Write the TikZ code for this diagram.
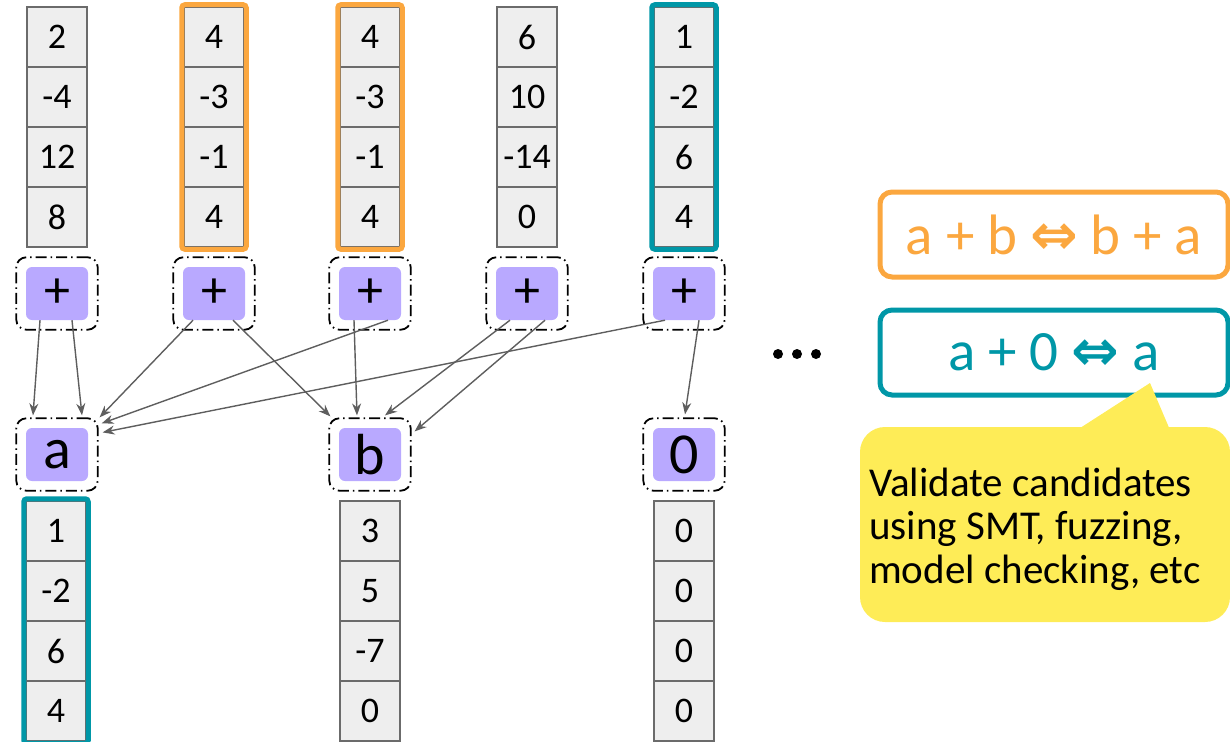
\documentclass[tikz,border=0pt]{standalone}
\usepackage{fontspec}
\setmainfont{Carlito}
\newfontfamily\symfont{DejaVu Sans}
\usetikzlibrary{arrows.meta,fit,calc}
\definecolor{cellfill}{HTML}{EEEEEE}
\definecolor{cellline}{HTML}{6B6B6B}
\definecolor{opfill}{HTML}{B9A9FF}
\definecolor{ruleorange}{HTML}{FBA73F}
\definecolor{ruleteal}{HTML}{0097A7}
\definecolor{notefill}{HTML}{FEEC57}
\definecolor{edgegray}{HTML}{5E5E5E}
\newcommand\valuecells[4]{%
  \foreach \v [count=\j] in {#4}{%
    \node[cell] (#1-\j) at (#2,{#3+60*(\j-1)}) {\v};}}
\begin{document}
\begin{tikzpicture}[x=1pt,y=-1pt,
  cell/.style={draw=cellline, fill=cellfill, line width=1.5pt,
    minimum width=60pt, minimum height=60pt, inner sep=0pt,
    font=\fontsize{36}{36}\selectfont},
  opbox/.style={fill=opfill, rounded corners=6pt, minimum width=62pt,
    minimum height=53pt, inner sep=0pt},
  dashbox/.style={draw=black, line width=1.8pt, rounded corners=10pt,
    dash pattern=on 11pt off 4pt on 1.5pt off 4pt, inner sep=9.5pt},
  edge/.style={draw=edgegray, line width=1.4pt,
    -{Stealth[length=12pt,width=9pt]}},
  frame/.style={line width=5pt, rounded corners=3pt, inner sep=1.5pt},
  rulebox/.style={line width=5pt, rounded corners=12pt},
  ruletext/.style={font=\fontsize{57}{57}\selectfont}
]
\useasboundingbox (0,0) rectangle (1230,741);

% input vectors
\valuecells{c1}{57}{37}{2,-4,12,8}
\valuecells{c2}{214}{37}{4,-3,-1,4}
\valuecells{c3}{370}{37}{4,-3,-1,4}
\valuecells{c4}{527}{37}{6,10,-14,0}
\valuecells{c5}{684}{37}{1,-2,6,4}
\node[frame, draw=ruleorange, fit=(c2-1)(c2-4)] (f2) {};
\node[frame, draw=ruleorange, fit=(c3-1)(c3-4)] (f3) {};
\node[frame, draw=ruleteal, fit=(c5-1)(c5-4)] (f5) {};

% addition nodes
\foreach \i/\x in {1/57,2/214,3/370,4/527,5/684}{
  \node[opbox, font=\fontsize{52}{52}\selectfont] (p\i) at (\x,293.5) {+};
  \node[dashbox, fit=(p\i)] (q\i) {};
}

% candidate leaves
\foreach \n/\x/\t in {a/57/a,b/370/b,z/684/0}{
  \node[opbox, font=\fontsize{58}{58}\selectfont] (l\n) at (\x,454.5) {\t};
  \node[dashbox, fit=(l\n)] (r\n) {};
}

% output vectors
\valuecells{va}{56}{531}{1,-2,6,4}
\valuecells{vb}{370}{531}{3,5,-7,0}
\valuecells{vz}{684}{531}{0,0,0,0}
\node[frame, draw=ruleteal, fit=(va-1)(va-4)] (fa) {};

% matching edges
\draw[edge] ($(p1.south)+(-17,0)$) -- ($(ra.north)+(-24,-2)$);
\draw[edge] ($(p1.south)+(15,0)$) -- ($(ra.north)+(25,-2)$);
\draw[edge] ($(p2.south)+(-21,0)$) -- ($(ra.north east)+(1,0)$);
\draw[edge] ($(p2.south)+(19,0)$) -- ($(rb.north west)+(2,-1)$);
\draw[edge] ($(p3.south)+(-16,0)$) -- ($(rb.north)+(-13,-2)$);
\draw[edge] ($(p3.south)+(18,0)$) -- ($(ra.north east)+(3,6)$);
\draw[edge] ($(p4.south)+(-17,0)$) -- ($(rb.north)+(15,-2)$);
\draw[edge] ($(p4.south)+(18,0)$) -- ($(rb.north east)+(3,14)$);
\draw[edge] ($(p5.south)+(-19,0)$) -- ($(ra.north east)+(4,15)$);
\draw[edge] ($(p5.south)+(15,0)$) -- ($(rz.north)+(1,-3)$);

% ellipsis
\foreach \x in {778,797,816}
  \fill (\x,354) circle (5pt);

% rewrite rules
\node[rulebox, draw=ruleorange, minimum width=348pt, minimum height=85pt]
  (rule1) at (1054,234.5) {};
\node[ruletext, text=ruleorange] at (rule1) {a + b {\symfont\bfseries ⇔} b + a};
\node[rulebox, draw=ruleteal, minimum width=348pt, minimum height=85pt]
  (rule2) at (1054,352.5) {};
\node[ruletext, text=ruleteal] at (rule2) {a + 0 {\symfont\bfseries ⇔} a};

% note bubble
\fill[notefill] (1077,430) -- (1150,383) -- (1170,430) -- cycle;
\node[fill=notefill, rounded corners=25pt, minimum width=370pt,
  minimum height=195pt, inner sep=0pt] (note) at (1045,524.5) {};
\node[anchor=west, align=left, inner sep=0pt,
  font=\fontsize{41}{43.5}\selectfont] (notetext) at (869,529)
  {Validate candidates\\using SMT, fuzzing,\\model checking, etc};
\end{tikzpicture}
\end{document}
